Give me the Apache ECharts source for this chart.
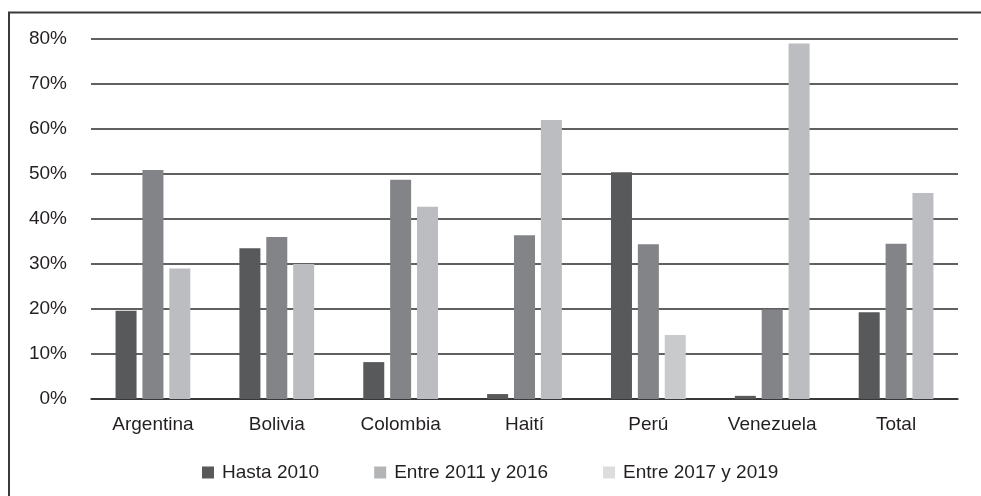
<!DOCTYPE html>
<html>
<head>
<meta charset="utf-8">
<script src="https://cdn.jsdelivr.net/npm/echarts@6/dist/echarts.min.js"></script>
<style>
html,body{margin:0;padding:0;background:#fff}
#chart{width:981px;height:496px}
</style>
</head>
<body>
<div id="chart"></div>
<script>
const categories = ['Argentina','Bolivia','Colombia','Haití','Perú','Venezuela','Total']
const hasta2010 = [19.6,33.5,8.2,1.1,50.4,0.7,19.3]
const entre2011 = [50.9,36.0,48.7,36.4,34.4,19.9,34.5]
const entre2017 = [29.0,30.0,42.7,62.0,14.2,79.0,45.8]
const seriesNames = ['Hasta 2010','Entre 2011 y 2016','Entre 2017 y 2019']
const yTicks = [0,80,10]

const barColors = ['#58595b','#838487','#bcbdc0']
const legendColors = ['#58595b','#b3b4b6','#dcdddf']

const chart = echarts.init(document.getElementById('chart'))

function makeSeries(name, data, color){
	return {
		type:'bar',
		name:name,
		barWidth:21,
		barGap:'28%',
		itemStyle:{color:color},
		data:data
	}
}

// Perú's last bar is a touch lighter in the original
const lightData = entre2017.map((v,i) => categories[i] == 'Perú' ? {value:v,itemStyle:{color:'#c9cacc'}} : v)

chart.setOption({
	animation:false,
	textStyle:{fontFamily:'Liberation Sans, Arial, sans-serif'},
	graphic:[
		{type:'line',shape:{x1:8,y1:12.5,x2:981,y2:12.5},style:{stroke:'#3a3a3a',lineWidth:2}},
		{type:'line',shape:{x1:9,y1:12,x2:9,y2:496},style:{stroke:'#3a3a3a',lineWidth:2}}
	],
	grid:{left:91,right:23,top:39,bottom:97},
	legend:{
		left:197,
		top:458,
		itemWidth:12,
		itemHeight:12,
		itemGap:55,
		icon:'rect',
		textStyle:{fontSize:19,color:'#231f20',padding:[0,0,0,3]},
		data:seriesNames.map((n,i) => ({name:n,itemStyle:{color:legendColors[i]}}))
	},
	xAxis:{
		type:'category',
		data:categories,
		axisLine:{show:true,lineStyle:{color:'#2b2b2b',width:1.5}},
		axisTick:{show:false},
		axisLabel:{fontSize:19,color:'#231f20',margin:16}
	},
	yAxis:{
		type:'value',
		min:yTicks[0],
		max:yTicks[1],
		interval:yTicks[2],
		axisLine:{show:false},
		axisTick:{show:false},
		axisLabel:{fontSize:19,color:'#231f20',margin:24,formatter:'{value}%'},
		splitLine:{show:true,lineStyle:{color:'#2b2b2b',width:1.5}}
	},
	series:[
		makeSeries(seriesNames[0],hasta2010,barColors[0]),
		makeSeries(seriesNames[1],entre2011,barColors[1]),
		makeSeries(seriesNames[2],lightData,barColors[2])
	]
})
</script>
</body>
</html>
